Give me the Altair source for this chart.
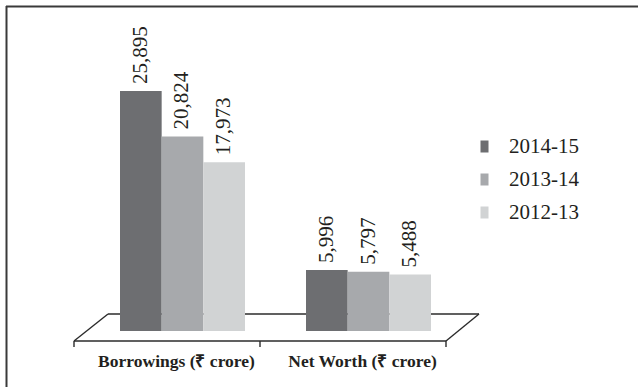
import altair as alt
import pandas as pd

# Chart data
categories = ["Borrowings (₹ crore)", "Net Worth (₹ crore)"]
years = ["2014-15", "2013-14", "2012-13"]
borrowings = [25895, 20824, 17973]
net_worth = [5996, 5797, 5488]
colors = ["#6d6e71", "#a7a9ac", "#d1d3d4"]

rows = []
for cat, vals in zip(categories, [borrowings, net_worth]):
    for yr, v in zip(years, vals):
        rows.append({"category": cat, "year": yr, "value": v})
df = pd.DataFrame(rows)
cat_df = pd.DataFrame({"category": categories})

W, H = 638, 387
INK = "#231f20"
LINE = "#2b2b2b"
SERIF = "Liberation Serif"

# bars rest on the pseudo-3D floor, slightly below the zero line
BASE = -780
x_scale = alt.Scale(domain=categories, range=[120, 431], paddingInner=0.328, paddingOuter=0)
y_scale = alt.Scale(domain=[-7000, 36000], nice=False, zero=False)
x_enc = alt.X("category:N", scale=x_scale, axis=None, sort=categories)
xo_enc = alt.XOffset("year:N", sort=years, scale=alt.Scale(domain=years, paddingInner=0, paddingOuter=0))

bars = alt.Chart(df).mark_bar(stroke=None).encode(
    x=x_enc,
    xOffset=xo_enc,
    y=alt.Y("value:Q", scale=y_scale, axis=None),
    y2=alt.datum(BASE),
    color=alt.Color(
        "year:N",
        sort=years,
        scale=alt.Scale(domain=years, range=colors),
        legend=alt.Legend(
            title=None,
            orient="none",
            legendX=474,
            legendY=136,
            symbolType="M-0.667,-1H0.667V1H-0.667Z",
            symbolSize=144,
            symbolStrokeWidth=0,
            labelFont=SERIF,
            labelFontSize=21,
            labelColor=INK,
            labelOffset=14,
            rowPadding=11,
            padding=0,
        ),
    ),
)

value_labels = alt.Chart(df).mark_text(
    angle=270, align="left", baseline="middle", dx=7,
    font=SERIF, fontSize=21, color=INK,
).encode(
    x=x_enc,
    xOffset=xo_enc,
    y=alt.Y("value:Q", scale=y_scale, axis=None),
    text=alt.Text("value:Q", format=","),
)

cat_labels = alt.Chart(cat_df).mark_text(
    baseline="middle", dx=-6, font=SERIF, fontWeight="bold",
    fontSize=17.5, color=INK,
).encode(
    x=x_enc,
    y=alt.value(362),
    text="category:N",
)

one = pd.DataFrame({"k": [0]})


def seg(x1, y1, x2, y2, color=LINE, width=1.4):
    return alt.Chart(one).mark_rule(color=color, strokeWidth=width).encode(
        x=alt.value(x1), y=alt.value(y1), x2=alt.value(x2), y2=alt.value(y2)
    )


# floor outline and category ticks
floor = [
    seg(108, 314, 479, 314),
    seg(74, 341, 446, 341),
    seg(74, 341, 108, 314),
    seg(446, 341, 479, 314),
    seg(74, 341, 74, 347),
    seg(260, 341, 260, 347),
    seg(446, 341, 446, 347),
]

# frame lines
frame = [
    seg(6, 6.5, W, 6.5, color="#3a3a3a", width=2),
    seg(6.5, 6, 6.5, H, color="#3a3a3a", width=2),
]

chart = alt.layer(*frame, *floor, bars, value_labels, cat_labels).properties(
    width=W,
    height=H,
    autosize=alt.AutoSizeParams(type="none"),
    padding=0,
    background="white",
).configure_view(strokeWidth=0)

chart.save("out.html", embed_options={"renderer": "svg", "actions": False})
